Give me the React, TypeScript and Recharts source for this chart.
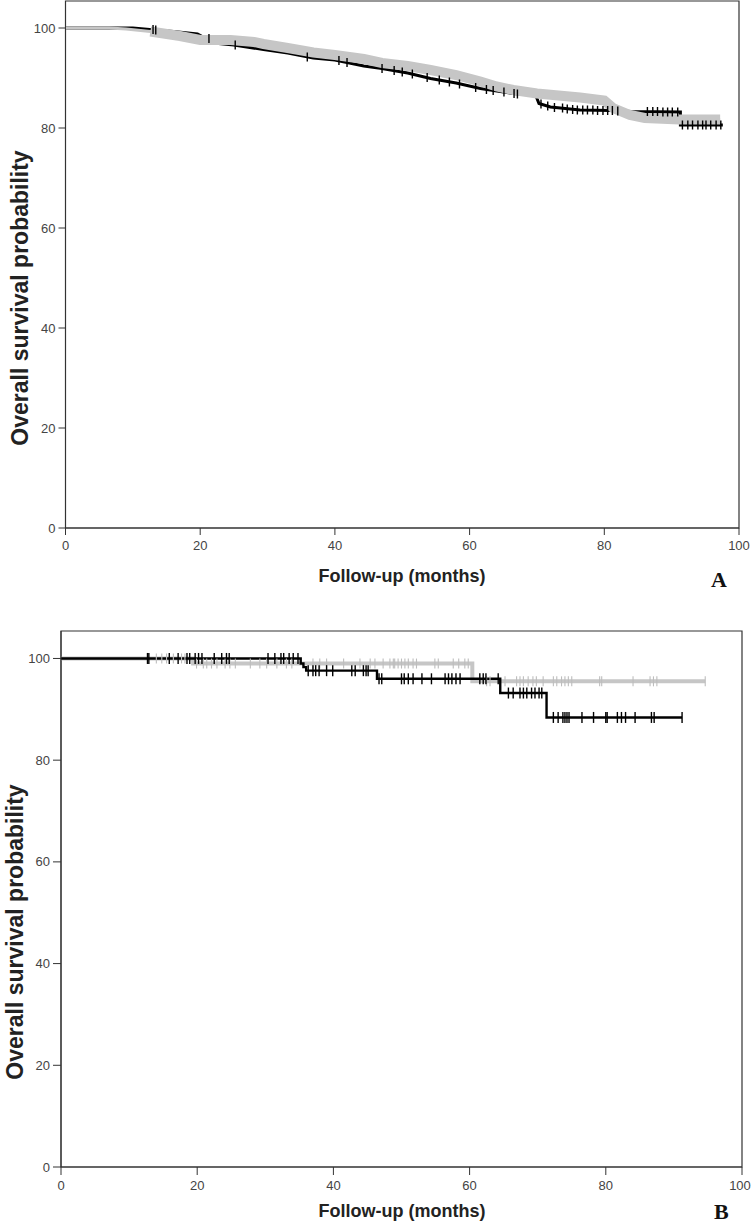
import React from "react";
import { ComposedChart, Line, XAxis, YAxis, ReferenceArea } from "recharts";

// ---- Panel A: Kaplan-Meier, survival (%) by follow-up month ----
const aBlack = [
  [0, 100], [10, 100], [12.5, 99.7], [16, 99.3], [19.6, 98.8], [22, 97.0],
  [25, 96.6], [29.4, 95.7], [33, 95.0], [36.8, 94.0], [40, 93.6], [44.3, 92.4], [47, 91.9],
  [50.8, 91.0], [54.2, 89.9], [58, 89.0], [61.6, 87.9], [66.5, 86.9], [69.8, 86.6], [70.3, 84.9],
  [72, 84.2], [76.4, 83.6], [81, 83.5], [84, 83.3], [91.3, 83.2], [91.3, 80.6], [97.6, 80.6],
];
const aGray = [
  [0, 100], [6.5, 100], [9, 99.8], [12.6, 99.3], [17, 98.4], [20, 97.6], [24.5, 97.6], [28, 97.2],
  [29.4, 96.8], [33, 96.0], [36.8, 95.1], [40, 94.6], [44.3, 93.8], [47, 93.0], [50.8, 92.4],
  [54.2, 91.6], [58, 90.6], [61.6, 89.3], [64, 88.3], [66.5, 87.6], [70, 86.9], [76.4, 86.1],
  [80, 85.5], [81.3, 84.0], [83.8, 82.6], [86, 82.0], [91.2, 81.7], [97.2, 81.7],
];
// censored cases on the black curve
const aBlackCensor = [
  [13, 99.7], [13.4, 99.6], [21.3, 97.9], [25.2, 96.6], [35.9, 94.2], [40.6, 93.5], [41.8, 93.1],
  [47, 91.9], [48.8, 91.5], [50, 91.2], [51.5, 90.8], [53.7, 90.1], [55.5, 89.6], [57, 89.2],
  [58.5, 88.8], [60.9, 88.1], [62.5, 87.7], [63.5, 87.5], [65.1, 87.2], [66.6, 86.9], [67.1, 86.8],
  [70.6, 84.8], [71.6, 84.4], [72.6, 84.1], [73.8, 84.0], [74.5, 83.8], [75.3, 83.7], [76, 83.6],
  [76.8, 83.6], [77.5, 83.6], [78.3, 83.6], [79, 83.5], [79.8, 83.5], [80.5, 83.5], [81.2, 83.5],
  [82, 83.4], [86.4, 83.3], [87.2, 83.3], [87.9, 83.3], [88.7, 83.2], [89.4, 83.2], [90.1, 83.2],
  [90.9, 83.2], [91.6, 80.6], [92.4, 80.6], [93.1, 80.6], [93.9, 80.6], [94.6, 80.6], [95.1, 80.6],
  [95.8, 80.6], [96.6, 80.6], [97.3, 80.6],
];

// ---- Panel B ----
const bBlack = [
  [0, 100], [35.2, 99.0], [35.6, 98.3], [36.0, 97.6], [46.4, 96.0], [64.5, 93.2], [71.3, 88.4], [91.2, 88.4],
];
const bGray = [[0, 100], [19.4, 99.0], [60.4, 95.5], [94.6, 95.5]];
const bBlackCensorT = [
  12.7, 12.9, 15.9, 17.2, 18.5, 18.9, 19.7, 20.2, 20.7, 22.5, 23.6, 24.3, 24.7, 30.4, 31.4, 32.3,
  32.7, 33.5, 34.1, 34.8, 36.3, 37.0, 37.4, 37.9, 39.0, 39.9, 42.7, 43.2, 44.4, 44.8, 45.1, 46.7,
  47.1, 50.0, 50.4, 51.0, 51.7, 53.0, 54.4, 56.4, 56.9, 57.4, 58.0, 58.6, 61.5, 62.0, 62.4, 64.2,
  65.7, 66.4, 67.4, 67.9, 68.4, 69.1, 69.6, 70.2, 70.6, 72.3, 73.0, 73.7, 74.0, 74.3, 74.6, 76.5,
  78.2, 80.0, 80.2, 81.7, 82.3, 82.9, 84.3, 86.7, 87.1, 91.2,
];
const bGrayCensorT = [
  14.0, 14.8, 15.5, 16.5, 17.7, 18.2, 19.9, 20.9, 21.4, 22.1, 22.9, 24.1, 24.8, 25.6, 27.8, 29.2,
  30.2, 31.7, 33.1, 33.9, 37.0, 38.0, 39.0, 41.5, 43.9, 45.4, 46.1, 47.3, 48.3, 48.8, 49.0, 49.5,
  50.0, 50.5, 51.0, 51.7, 52.2, 54.9, 55.4, 57.6, 58.4, 59.3, 59.8, 62.5, 63.0, 65.2, 66.9, 67.4,
  67.9, 68.6, 69.3, 69.8, 70.8, 72.3, 72.8, 73.5, 74.0, 74.5, 75.0, 79.1, 79.4, 84.0, 86.5, 87.0,
  87.5, 94.6,
];

const xTicks = [0, 20, 40, 60, 80, 100];
const yTicks = [0, 20, 40, 60, 80, 100];

const FONT = "'Liberation Sans', Arial, Helvetica, sans-serif";
const AXIS = "#333";
const GRAY = "#c6c6c6";

const pts = (a: number[][]) => a.map(([t, s]) => ({ t, s }));
// KM value at time t (last step at or before t)
const stepAt = (curve: number[][], t: number) => {
  let s = curve[0][1];
  for (const [ct, cs] of curve) {
    if (ct <= t) s = cs;
    else break;
  }
  return s;
};
const censorPts = (curve: number[][], times: number[]) => times.map((t) => ({ t, s: stepAt(curve, t) }));

const XTick = (p: any) => (
  <text x={p.x} y={p.y + 13} textAnchor="middle" fontFamily={FONT} fontSize={13} fill="#444">
    {p.payload.value}
  </text>
);
const YTick = (p: any) => (
  <text x={p.x - 1} y={p.y + 4.5} textAnchor="end" fontFamily={FONT} fontSize={13} fill="#444">
    {p.payload.value}
  </text>
);

const censorDot = (color: string, half: number, w: number) => (p: any) => {
  if (p.cx == null || p.cy == null) return <g key={p.index} />;
  return (
    <line key={p.index} x1={p.cx} x2={p.cx} y1={p.cy - half} y2={p.cy + half} stroke={color} strokeWidth={w} />
  );
};

const yTitle = (x: number, y: number) => () => (
  <text
    x={x}
    y={y}
    transform={`rotate(-90 ${x} ${y})`}
    textAnchor="middle"
    dominantBaseline="central"
    fontFamily={FONT}
    fontWeight="bold"
    fontSize={23}
    fill="#222"
  >
    Overall survival probability
  </text>
);
const xTitle = (x: number, y: number) => () => (
  <text x={x} y={y} textAnchor="middle" fontFamily={FONT} fontWeight="bold" fontSize={18} fill="#222">
    Follow-up (months)
  </text>
);

const letter = (ch: string, left: number, top: number) => (
  <div
    style={{
      position: "absolute",
      left,
      top,
      fontFamily: "'Liberation Serif', 'Times New Roman', serif",
      fontWeight: "bold",
      fontSize: 22,
      lineHeight: "22px",
      color: "#111",
    }}
  >
    {ch}
  </div>
);

const A_MAX = 105.4;
const B_MAX = 105.4;

export default function App() {
  return (
    <div style={{ position: "absolute", left: 0, top: 0, width: 752, height: 1224, background: "#fff" }}>
      <div style={{ position: "absolute", left: 0, top: 0 }}>
        <ComposedChart width={752} height={600} margin={{ top: 1, right: 13, bottom: 42, left: 25.5 }}>
          <XAxis
            type="number"
            dataKey="t"
            domain={[0, 100]}
            ticks={xTicks}
            stroke={AXIS}
            tickSize={7}
            tick={XTick}
            height={30}
            allowDataOverflow
            label={xTitle(402, 582)}
          />
          <YAxis
            type="number"
            dataKey="s"
            domain={[0, A_MAX]}
            ticks={yTicks}
            stroke={AXIS}
            tickSize={7}
            tick={YTick}
            width={40}
            allowDataOverflow
            label={yTitle(20, 298)}
          />
          <ReferenceArea x1={0} x2={100} y1={0} y2={A_MAX} fill="none" stroke={AXIS} strokeWidth={1.2} />
          <Line data={pts(aBlack)} dataKey="s" type="linear" stroke="#000" strokeWidth={3} dot={false} activeDot={false} isAnimationActive={false} />
          <Line data={pts(aGray)} dataKey="s" type="linear" stroke={GRAY} strokeWidth={3} dot={false} activeDot={false} isAnimationActive={false} />
          <Line
            data={pts(aGray.filter(([t]) => t >= 12.6))}
            dataKey="s"
            type="linear"
            stroke={GRAY}
            strokeWidth={10}
            dot={false}
            activeDot={false}
            isAnimationActive={false}
          />
          <Line
            data={pts(aBlackCensor)}
            dataKey="s"
            stroke="none"
            dot={censorDot("#000", 4.5, 1.4)}
            activeDot={false}
            isAnimationActive={false}
          />
        </ComposedChart>
      </div>
      {letter("A", 711, 569)}

      <div style={{ position: "absolute", left: 0, top: 600 }}>
        <ComposedChart width={752} height={624} margin={{ top: 31, right: 10, bottom: 27, left: 21 }}>
          <XAxis
            type="number"
            dataKey="t"
            domain={[0, 100]}
            ticks={xTicks}
            stroke={AXIS}
            tickSize={8}
            tick={XTick}
            height={30}
            allowDataOverflow
            label={xTitle(402, 617)}
          />
          <YAxis
            type="number"
            dataKey="s"
            domain={[0, B_MAX]}
            ticks={yTicks}
            stroke={AXIS}
            tickSize={8}
            tick={YTick}
            width={40}
            allowDataOverflow
            label={yTitle(15, 332)}
          />
          <ReferenceArea x1={0} x2={100} y1={0} y2={B_MAX} fill="none" stroke={AXIS} strokeWidth={1.2} />
          <Line data={pts(bGray)} dataKey="s" type="stepAfter" stroke={GRAY} strokeWidth={4} dot={false} activeDot={false} isAnimationActive={false} />
          <Line data={pts(bBlack)} dataKey="s" type="stepAfter" stroke="#000" strokeWidth={2.4} dot={false} activeDot={false} isAnimationActive={false} />
          <Line
            data={censorPts(bGray, bGrayCensorT)}
            dataKey="s"
            stroke="none"
            dot={censorDot("#bdbdbd", 5, 1.1)}
            activeDot={false}
            isAnimationActive={false}
          />
          <Line
            data={censorPts(bBlack, bBlackCensorT)}
            dataKey="s"
            stroke="none"
            dot={censorDot("#000", 5.5, 1.4)}
            activeDot={false}
            isAnimationActive={false}
          />
        </ComposedChart>
      </div>
      {letter("B", 714, 1201)}
    </div>
  );
}
